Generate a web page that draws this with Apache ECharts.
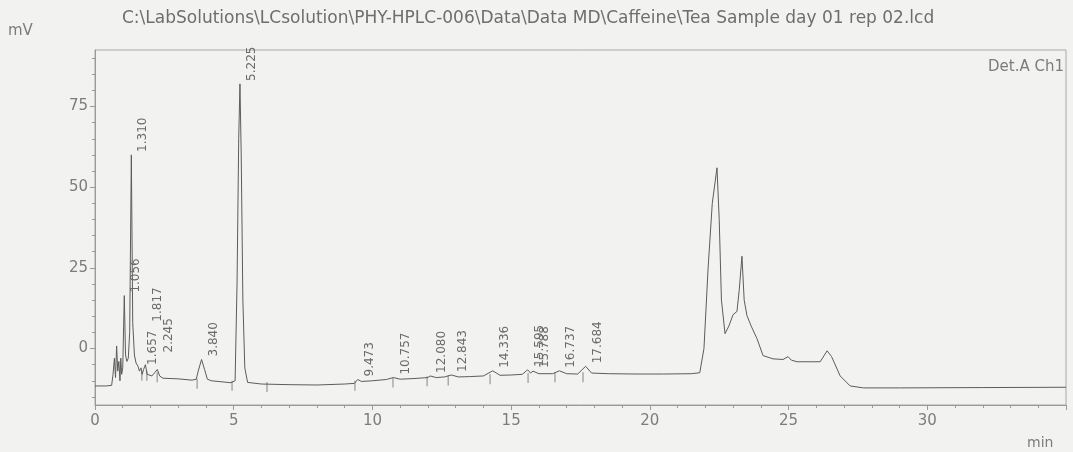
<!DOCTYPE html>
<html>
<head>
<meta charset="utf-8">
<script src="https://cdn.jsdelivr.net/npm/echarts@6/dist/echarts.min.js"></script>
<style>
html,body{margin:0;padding:0;background:#f2f2f0;}
#chart{width:1073px;height:452px;}
</style>
</head>
<body>
<div id="chart"></div>
<script>
// ---- data ----
const titleText = 'C:\\LabSolutions\\LCsolution\\PHY-HPLC-006\\Data\\Data MD\\Caffeine\\Tea Sample day 01 rep 02.lcd';
const channelName = 'Det.A Ch1';
const yUnit = 'mV';
const xUnit = 'min';
const yTickLabels = [0, 25, 50, 75];
const yMinorTicks = [-15, -10, -5, 0, 5, 10, 15, 20, 25, 30, 35, 40, 45, 50, 55, 60, 65, 70, 75, 80, 85, 90];

const times = [
  0.00, 0.40, 0.60, 0.65, 0.70, 0.74, 0.78, 0.82, 0.86, 0.90, 0.93, 0.96, 1.00, 1.056, 1.10, 1.15,
  1.20, 1.25, 1.310, 1.36, 1.42, 1.48, 1.55, 1.60, 1.657, 1.70, 1.75, 1.817, 1.88, 1.95, 2.05, 2.15,
  2.245, 2.33, 2.45, 3.00, 3.50, 3.65, 3.72, 3.840, 3.95, 4.05, 4.20, 4.90, 5.05, 5.12, 5.18, 5.225,
  5.27, 5.33, 5.40, 5.50, 6.00, 7.00, 8.00, 9.00, 9.35, 9.473, 9.60, 10.00, 10.50, 10.757, 11.00, 11.50,
  12.00, 12.080, 12.30, 12.60, 12.843, 13.10, 13.50, 14.00, 14.336, 14.60, 15.00, 15.40, 15.595, 15.70, 15.788, 16.00,
  16.50, 16.737, 17.00, 17.40, 17.684, 17.90, 18.50, 19.50, 20.50, 21.50, 21.80, 21.95, 22.10, 22.25, 22.42, 22.50,
  22.58, 22.71, 22.85, 23.00, 23.14, 23.22, 23.32, 23.40, 23.50, 23.65, 23.86, 24.08, 24.44, 24.80, 24.98, 25.10,
  25.31, 25.80, 26.14, 26.39, 26.55, 26.86, 27.22, 27.70, 29.00, 32.00, 35.00
];
const signal = [
  -11.6, -11.6, -11.4, -8.0, -3.0, -9.0, 0.8, -7.0, -4.0, -10.0, -3.0, -8.0, -6.0, 16.4, -2.0, -4.0,
  -3.0, 5.0, 60.0, 8.0, -2.0, -4.5, -5.5, -7.0, -6.0, -8.0, -6.5, -5.0, -8.0, -7.5, -8.5, -7.5,
  -6.5, -8.5, -9.2, -9.4, -9.8, -9.5, -7.0, -3.4, -6.5, -9.5, -10.0, -10.6, -10.0, 20.0, 65.0, 82.0,
  60.0, 15.0, -6.0, -10.5, -11.0, -11.2, -11.3, -11.0, -10.8, -9.6, -10.2, -10.0, -9.6, -9.0, -9.5, -9.3,
  -9.0, -8.5, -9.0, -8.8, -8.2, -8.8, -8.7, -8.5, -6.9, -8.3, -8.2, -8.0, -6.6, -7.6, -7.0, -7.8,
  -7.8, -6.9, -7.8, -7.9, -5.5, -7.6, -7.8, -7.9, -7.9, -7.8, -7.5, 0.0, 25.0, 45.0, 56.0, 40.0,
  15.0, 4.6, 7.0, 10.5, 11.5, 18.0, 28.6, 15.0, 10.2, 7.0, 3.1, -2.2, -3.2, -3.4, -2.5, -3.6,
  -4.1, -4.1, -4.1, -0.7, -2.5, -8.5, -11.6, -12.2, -12.2, -12.1, -12.0
];

const peakRT = ['1.056', '1.310', '1.657', '1.817', '2.245', '3.840', '5.225', '9.473', '10.757', '12.080', '12.843', '14.336', '15.595', '15.788', '16.737', '17.684'];
const peakApex = [16.4, 60.0, -6.0, -5.0, -6.5, -3.4, 82.0, -9.6, -9.0, -8.5, -8.2, -6.9, -6.6, -7.0, -6.9, -5.5];

const markerTimes = [1.69, 1.87, 2.24, 3.68, 4.94, 6.20, 9.37, 10.74, 11.97, 12.73, 14.24, 15.61, 16.58, 17.59];
const markerLevels = [-7.5, -7.5, -8.0, -10.0, -10.6, -11.0, -10.6, -9.6, -9.2, -9.0, -8.6, -8.2, -8.0, -8.0];

// ---- chart ----
const FONT = '"DejaVu Sans", Verdana, sans-serif';
const TXT = '#7c7c7c';
const AX = '#9a9a9a';
const liftedLabels = { '1.817': 40, '2.245': 14 };

const trace = times.map((t, i) => [t, signal[i]]);
const peaks = peakRT.map((s, i) => [parseFloat(s), peakApex[i]]);
const markers = markerTimes.map((t, i) => [t, markerLevels[i]]);

const chart = echarts.init(document.getElementById('chart'), null, { renderer: 'canvas' });
chart.setOption({
  animation: false,
  backgroundColor: '#f2f2f0',
  textStyle: { fontFamily: FONT },
  grid: { left: 95, right: 7, top: 50, bottom: 47, show: true, borderColor: '#a8a8a8', borderWidth: 1 },
  graphic: [
    { type: 'text', left: 122, top: 10, style: { text: titleText, font: '17px ' + FONT, fill: '#6e6e6e' } },
    { type: 'text', left: 8, top: 24, style: { text: yUnit, font: '15px ' + FONT, fill: TXT } },
    { type: 'text', right: 9, top: 60, style: { text: channelName, font: '15px ' + FONT, fill: TXT } },
    { type: 'text', left: 1027, top: 436, style: { text: xUnit, font: '14px ' + FONT, fill: TXT } }
  ],
  xAxis: {
    type: 'value', min: 0, max: 35, interval: 5,
    axisLine: { show: true, onZero: false, lineStyle: { color: AX, width: 1 } },
    axisTick: { show: true, length: 5, lineStyle: { color: AX } },
    minorTick: { show: true, splitNumber: 5, length: 3, lineStyle: { color: AX } },
    axisLabel: { color: TXT, fontSize: 15, fontFamily: FONT, margin: 9,
      formatter: v => (v >= 35 ? '' : String(v)) },
    splitLine: { show: false }
  },
  yAxis: [
    {
      type: 'value', min: -17.5, max: 92.5,
      axisLine: { show: true, onZero: false, lineStyle: { color: AX, width: 1 } },
      axisTick: { show: true, length: 5, customValues: yTickLabels, lineStyle: { color: AX } },
      axisLabel: { color: TXT, fontSize: 15, fontFamily: FONT, margin: 7, customValues: yTickLabels },
      splitLine: { show: false }
    },
    {
      type: 'value', min: -17.5, max: 92.5, position: 'left',
      axisLine: { show: false, onZero: false },
      axisTick: { show: true, length: 3, customValues: yMinorTicks, lineStyle: { color: AX } },
      axisLabel: { show: false },
      splitLine: { show: false }
    }
  ],
  series: [
    {
      type: 'line', data: trace, showSymbol: false, symbol: 'none',
      lineStyle: { color: '#5c5c5c', width: 1 }, z: 3
    },
    {
      type: 'scatter', data: markers, symbol: 'rect', symbolSize: [1, 10], symbolOffset: [0, 3],
      itemStyle: { color: '#6a6a6a' }, z: 2, silent: true
    },
    {
      type: 'custom', data: peaks, z: 4,
      renderItem: function (params, api) {
        const p = api.coord([api.value(0), api.value(1)]);
        const label = peakRT[params.dataIndex];
        const lift = liftedLabels[label] || 0;
        return {
          type: 'text',
          x: p[0] + 12,
          y: p[1] - 3 - lift,
          rotation: Math.PI / 2,
          style: { text: label, font: '12px ' + FONT, fill: '#6a6a6a', align: 'left', verticalAlign: 'middle' }
        };
      }
    }
  ]
});
</script>
</body>
</html>
